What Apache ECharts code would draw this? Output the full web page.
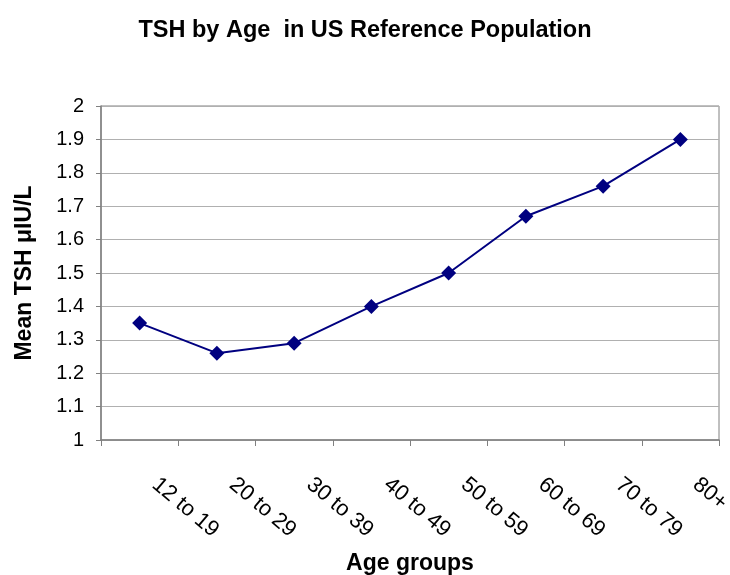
<!DOCTYPE html>
<html>
<head>
<meta charset="utf-8">
<script src="https://cdn.jsdelivr.net/npm/echarts@6/dist/echarts.min.js"></script>
<style>html,body{margin:0;padding:0;background:#fff;}#c{width:730px;height:575px;}</style>
</head>
<body>
<div id="c"></div>
<script>
const categories = ['12 to 19', '20 to 29', '30 to 39', '40 to 49', '50 to 59', '60 to 69', '70 to 79', '80+'];
const meanTSH = [1.35, 1.26, 1.29, 1.40, 1.50, 1.67, 1.76, 1.90];
const yTicks = { min: 1, max: 2, interval: 0.1 };

const chart = echarts.init(document.getElementById('c'));
const font = 'Liberation Sans, Arial, sans-serif';
chart.setOption({
  animation: false,
  backgroundColor: '#fff',
  title: {
    text: 'TSH by Age  in US Reference Population',
    left: 'center', top: 14,
    textStyle: { fontFamily: font, fontWeight: 'bold', fontSize: 23.5, color: '#000' }
  },
  grid: { left: 101, right: 11, top: 106, bottom: 135, outerBoundsMode: 'none', containLabel: false, show: true, borderColor: '#808080', borderWidth: 1 },
  xAxis: {
    type: 'category',
    data: categories,
    boundaryGap: true,
    name: 'Age groups',
    nameLocation: 'middle',
    nameGap: 112,
    nameTextStyle: { fontFamily: font, fontWeight: 'bold', fontSize: 23, color: '#000' },
    axisLine: { lineStyle: { color: '#808080', width: 1.5 } },
    axisTick: { show: true, length: 6, alignWithLabel: false, lineStyle: { color: '#808080' } },
    axisLabel: { rotate: -40, margin: 29, padding: [0, 0, 0, 20], fontFamily: font, fontSize: 22, color: '#000' },
    splitLine: { show: false }
  },
  yAxis: {
    type: 'value',
    min: yTicks.min, max: yTicks.max, interval: yTicks.interval,
    name: 'Mean TSH μIU/L',
    nameLocation: 'middle',
    nameRotate: 90,
    nameGap: 65,
    nameTextStyle: { fontFamily: font, fontWeight: 'bold', fontSize: 23, color: '#000' },
    axisLine: { show: true, lineStyle: { color: '#808080', width: 1.5 } },
    axisTick: { show: true, length: 5, lineStyle: { color: '#808080' } },
    axisLabel: { margin: 17, fontFamily: font, fontSize: 20, color: '#000' },
    splitLine: { show: true, lineStyle: { color: '#b0b0b0', width: 1 } }
  },
  series: [{
    type: 'line',
    data: meanTSH,
    symbol: 'diamond',
    symbolSize: 15,
    itemStyle: { color: '#000080' },
    lineStyle: { color: '#000080', width: 2 }
  }]
});
</script>
</body>
</html>
